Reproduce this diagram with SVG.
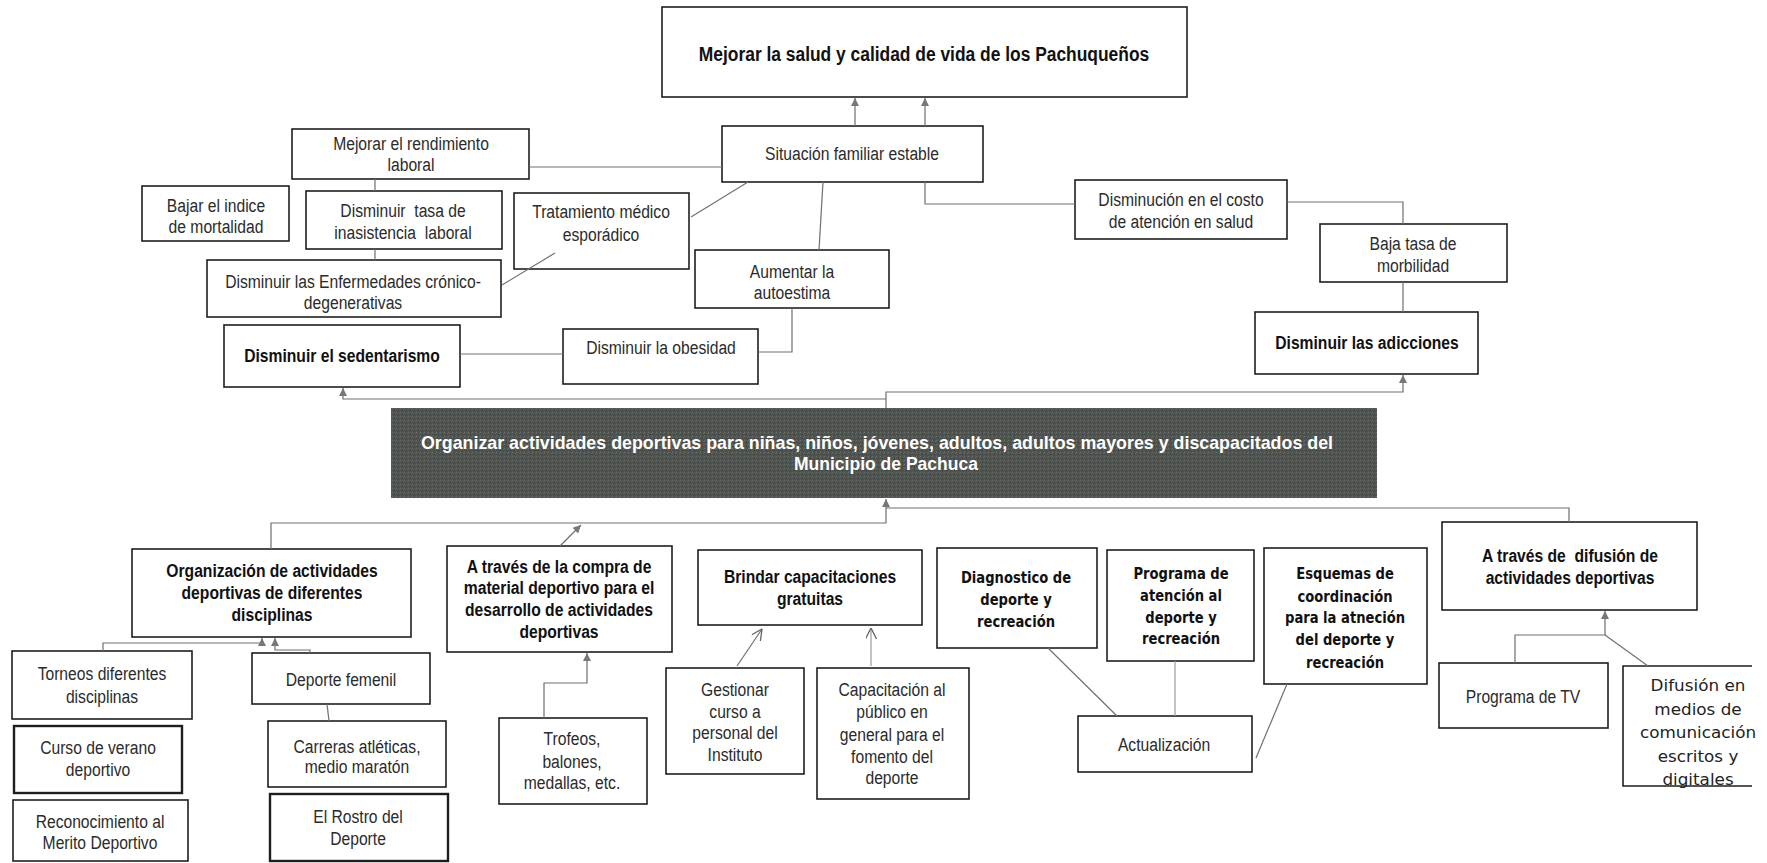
<svg xmlns="http://www.w3.org/2000/svg" width="1767" height="863" viewBox="0 0 1767 863">
<style>
.box{fill:#fff;stroke:#1e1e1e;stroke-width:1.6}
.thick{stroke-width:2.4}
.t{font-family:"Liberation Sans",Arial,sans-serif;font-size:18px;fill:#2b2b2b;text-anchor:middle}
.b{font-weight:bold;fill:#111}
.dv{font-family:"DejaVu Sans",Verdana,sans-serif;font-size:16px;font-weight:bold;fill:#111;text-anchor:middle}
.dr{font-family:"DejaVu Sans",Verdana,sans-serif;font-size:16px;fill:#222;text-anchor:middle}
.ban{font-family:"Liberation Sans",Arial,sans-serif;font-size:19px;font-weight:bold;fill:#fff;text-anchor:middle}
.c{fill:none;stroke:#707070;stroke-width:1.2}
.a{marker-end:url(#ah)}
.o{marker-end:url(#oh)}
.lt{stroke:#9a9a9a}
.pre{white-space:pre}
</style>
<defs>
<marker id="ah" viewBox="0 0 10 10" refX="10" refY="5" markerWidth="9" markerHeight="8" orient="auto" markerUnits="userSpaceOnUse"><path d="M0,0 L10,5 L0,10 z" fill="#777"/></marker>
<marker id="oh" viewBox="0 0 10 10" refX="10" refY="5" markerWidth="12" markerHeight="11" orient="auto" markerUnits="userSpaceOnUse"><path d="M0,0 L10,5 L0,10" fill="none" stroke="#666" stroke-width="1.2"/></marker>
<pattern id="tex" width="4" height="4" patternUnits="userSpaceOnUse"><rect width="4" height="4" fill="#4f5450"/><rect width="1" height="1" fill="#6c716d"/><rect x="2" y="2" width="1" height="1" fill="#3d413e"/><rect x="3" y="1" width="1" height="1" fill="#5f6460"/></pattern>
</defs>

<g id="n_title"><rect class="box" x="662" y="7" width="525" height="90"/><text class="t b" style="font-size:20px" transform="translate(924 0) scale(0.87 1)"><tspan x="0" y="61">Mejorar la salud y calidad de vida de los Pachuqueños</tspan></text></g>
<g id="n_situacion"><rect class="box" x="722" y="126" width="261" height="56"/><text class="t" transform="translate(852 0) scale(0.87 1)"><tspan x="0" y="160">Situación familiar estable</tspan></text></g>
<g id="n_rendimiento"><rect class="box" x="292" y="129" width="237" height="50"/><text class="t" transform="translate(411 0) scale(0.87 1)"><tspan x="0" y="150">Mejorar el rendimiento</tspan><tspan x="0" y="171">laboral</tspan></text></g>
<g id="n_bajar"><rect class="box" x="142" y="186" width="147" height="55"/><text class="t" transform="translate(216 0) scale(0.87 1)"><tspan x="0" y="212">Bajar el indice</tspan><tspan x="0" y="233">de mortalidad</tspan></text></g>
<g id="n_inasistencia"><rect class="box" x="306" y="191" width="196" height="58"/><text class="t pre" transform="translate(403 0) scale(0.87 1)"><tspan x="0" y="217">Disminuir  tasa de</tspan><tspan x="0" y="239">inasistencia  laboral</tspan></text></g>
<g id="n_tratamiento"><rect class="box" x="514" y="193" width="175" height="76"/><text class="t" transform="translate(601 0) scale(0.87 1)"><tspan x="0" y="218">Tratamiento médico</tspan><tspan x="0" y="241">esporádico</tspan></text></g>
<g id="n_enfermedades"><rect class="box" x="207" y="260" width="294" height="57"/><text class="t" transform="translate(353 0) scale(0.87 1)"><tspan x="0" y="288">Disminuir las Enfermedades crónico-</tspan><tspan x="0" y="309">degenerativas</tspan></text></g>
<g id="n_aumentar"><rect class="box" x="695" y="250" width="194" height="58"/><text class="t" transform="translate(792 0) scale(0.87 1)"><tspan x="0" y="278">Aumentar la</tspan><tspan x="0" y="299">autoestima</tspan></text></g>
<g id="n_sedentarismo"><rect class="box" x="224" y="325" width="236" height="62"/><text class="t b" transform="translate(342 0) scale(0.87 1)"><tspan x="0" y="362">Disminuir el sedentarismo</tspan></text></g>
<g id="n_obesidad"><rect class="box" x="563" y="329" width="195" height="55"/><text class="t" transform="translate(661 0) scale(0.87 1)"><tspan x="0" y="354">Disminuir la obesidad</tspan></text></g>
<g id="n_disminucion"><rect class="box" x="1075" y="180" width="212" height="59"/><text class="t" transform="translate(1181 0) scale(0.87 1)"><tspan x="0" y="206">Disminución en el costo</tspan><tspan x="0" y="228">de atención en salud</tspan></text></g>
<g id="n_baja"><rect class="box" x="1320" y="224" width="187" height="58"/><text class="t" transform="translate(1413 0) scale(0.87 1)"><tspan x="0" y="250">Baja tasa de</tspan><tspan x="0" y="272">morbilidad</tspan></text></g>
<g id="n_adicciones"><rect class="box" x="1255" y="312" width="223" height="62"/><text class="t b" transform="translate(1367 0) scale(0.87 1)"><tspan x="0" y="349">Disminuir las adicciones</tspan></text></g>

<g id="n_banner"><rect x="391" y="408" width="986" height="90" fill="url(#tex)"/><text class="ban"><tspan x="877" y="449" textLength="912" lengthAdjust="spacingAndGlyphs">Organizar actividades deportivas para niñas, niños, jóvenes, adultos, adultos mayores y discapacitados del</tspan><tspan x="886" y="470" textLength="184" lengthAdjust="spacingAndGlyphs">Municipio de Pachuca</tspan></text></g>

<g id="n_organizacion"><rect class="box" x="132" y="549" width="279" height="88"/><text class="t b" transform="translate(272 0) scale(0.87 1)"><tspan x="0" y="577">Organización de actividades</tspan><tspan x="0" y="599">deportivas de diferentes</tspan><tspan x="0" y="621">disciplinas</tspan></text></g>
<g id="n_torneos"><rect class="box" x="12" y="651" width="180" height="68"/><text class="t" transform="translate(102 0) scale(0.87 1)"><tspan x="0" y="680">Torneos diferentes</tspan><tspan x="0" y="703">disciplinas</tspan></text></g>
<g id="n_curso"><rect class="box thick" x="14" y="726" width="168" height="67"/><text class="t" transform="translate(98 0) scale(0.87 1)"><tspan x="0" y="754">Curso de verano</tspan><tspan x="0" y="776">deportivo</tspan></text></g>
<g id="n_reconocimiento"><rect class="box" x="13" y="800" width="175" height="61"/><text class="t" transform="translate(100 0) scale(0.87 1)"><tspan x="0" y="828">Reconocimiento al</tspan><tspan x="0" y="849">Merito Deportivo</tspan></text></g>
<g id="n_femenil"><rect class="box" x="252" y="653" width="178" height="51"/><text class="t" transform="translate(341 0) scale(0.87 1)"><tspan x="0" y="686">Deporte femenil</tspan></text></g>
<g id="n_carreras"><rect class="box" x="268" y="721" width="178" height="66"/><text class="t" transform="translate(357 0) scale(0.87 1)"><tspan x="0" y="753">Carreras atléticas,</tspan><tspan x="0" y="773">medio maratón</tspan></text></g>
<g id="n_rostro"><rect class="box thick" x="270" y="794" width="178" height="67"/><text class="t" transform="translate(358 0) scale(0.87 1)"><tspan x="0" y="823">El Rostro del</tspan><tspan x="0" y="845">Deporte</tspan></text></g>
<g id="n_compra"><rect class="box" x="447" y="546" width="225" height="106"/><text class="t b" transform="translate(559 0) scale(0.87 1)"><tspan x="0" y="573">A través de la compra de</tspan><tspan x="0" y="594">material deportivo para el</tspan><tspan x="0" y="616">desarrollo de actividades</tspan><tspan x="0" y="638">deportivas</tspan></text></g>
<g id="n_trofeos"><rect class="box" x="499" y="718" width="148" height="86"/><text class="t" transform="translate(572 0) scale(0.87 1)"><tspan x="0" y="745">Trofeos,</tspan><tspan x="0" y="768">balones,</tspan><tspan x="0" y="789">medallas, etc.</tspan></text></g>
<g id="n_brindar"><rect class="box" x="698" y="550" width="224" height="75"/><text class="t b" transform="translate(810 0) scale(0.87 1)"><tspan x="0" y="583">Brindar capacitaciones</tspan><tspan x="0" y="605">gratuitas</tspan></text></g>
<g id="n_gestionar"><rect class="box" x="666" y="668" width="138" height="106"/><text class="t" transform="translate(735 0) scale(0.87 1)"><tspan x="0" y="696">Gestionar</tspan><tspan x="0" y="718">curso a</tspan><tspan x="0" y="739">personal del</tspan><tspan x="0" y="761">Instituto</tspan></text></g>
<g id="n_capacitacion"><rect class="box" x="817" y="668" width="152" height="131"/><text class="t" transform="translate(892 0) scale(0.87 1)"><tspan x="0" y="696">Capacitación al</tspan><tspan x="0" y="718">público en</tspan><tspan x="0" y="741">general para el</tspan><tspan x="0" y="763">fomento del</tspan><tspan x="0" y="784">deporte</tspan></text></g>
<g id="n_diagnostico"><rect class="box" x="937" y="548" width="160" height="100"/><text class="dv" transform="translate(1016 0) scale(0.82 1)"><tspan x="0" y="583">Diagnostico de</tspan><tspan x="0" y="605">deporte y</tspan><tspan x="0" y="627">recreación</tspan></text></g>
<g id="n_programa"><rect class="box" x="1107" y="550" width="147" height="111"/><text class="dv" transform="translate(1181 0) scale(0.82 1)"><tspan x="0" y="579">Programa de</tspan><tspan x="0" y="601">atención al</tspan><tspan x="0" y="623">deporte y</tspan><tspan x="0" y="644">recreación</tspan></text></g>
<g id="n_esquemas"><rect class="box" x="1264" y="548" width="163" height="136"/><text class="dv" transform="translate(1345 0) scale(0.82 1)"><tspan x="0" y="579">Esquemas de</tspan><tspan x="0" y="602">coordinación</tspan><tspan x="0" y="623">para la atneción</tspan><tspan x="0" y="645">del deporte y</tspan><tspan x="0" y="668">recreación</tspan></text></g>
<g id="n_actualizacion"><rect class="box" x="1078" y="716" width="174" height="56"/><text class="t" transform="translate(1164 0) scale(0.87 1)"><tspan x="0" y="751">Actualización</tspan></text></g>
<g id="n_difusion"><rect class="box" x="1442" y="522" width="255" height="88"/><text class="t b pre" transform="translate(1570 0) scale(0.87 1)"><tspan x="0" y="562">A través de  difusión de</tspan><tspan x="0" y="584">actividades deportivas</tspan></text></g>
<g id="n_tv"><rect class="box" x="1439" y="663" width="169" height="65"/><text class="t" transform="translate(1523 0) scale(0.87 1)"><tspan x="0" y="703">Programa de TV</tspan></text></g>
<g id="n_medios"><path d="M1752,666 H1623 V786 H1752" fill="#fff" stroke="#1e1e1e" stroke-width="1.6"/><text class="dr" transform="translate(1698 0) scale(1.05 1)"><tspan x="0" y="691">Difusión en</tspan><tspan x="0" y="715">medios de</tspan><tspan x="0" y="738">comunicación</tspan><tspan x="0" y="762">escritos y</tspan><tspan x="0" y="785">digitales</tspan></text></g>

<g id="connectors">
<path class="c a" d="M855,126 V98"/>
<path class="c a" d="M925,126 V98"/>
<path class="c" d="M529,167 H722"/>
<path class="c" d="M375,179 V191 M375,249 V260"/>
<path class="c" d="M502,285 L555,253"/>
<path class="c" d="M748,182 L691,217"/>
<path class="c" d="M823,182 L819,250"/>
<path class="c" d="M792,308 V352 H758"/>
<path class="c" d="M460,354 H563"/>
<path class="c" d="M925,182 V204 H1075"/>
<path class="c" d="M1287,202 H1403 V224"/>
<path class="c" d="M1403,282 V312"/>
<path class="c a" d="M886,408 V392 H1403 V375"/>
<path class="c a" d="M886,399 H343 V388"/>
<path class="c a" d="M271,549 V523 H886 V499"/>
<path class="c" d="M886,508 H1569 V522"/>
<path class="c a" d="M560,546 L581,525"/>
<path class="c a" d="M103,651 V643 H262 V638"/>
<path class="c a" d="M310,653 V650 H275 V638"/>
<path class="c" d="M327,704 L329,721"/>
<path class="c a" d="M544,718 V683 H587 V653"/>
<path class="c o" d="M737,666 L762,629"/>
<path class="c o lt" d="M871,666 V628"/>
<path class="c" d="M1048,648 L1117,716"/>
<path class="c lt" d="M1175,661 V716"/>
<path class="c" d="M1287,684 L1256,758"/>
<path class="c a" d="M1515,663 V635 H1605 V611"/>
<path class="c" d="M1648,666 L1605,635"/>
</g>
</svg>
